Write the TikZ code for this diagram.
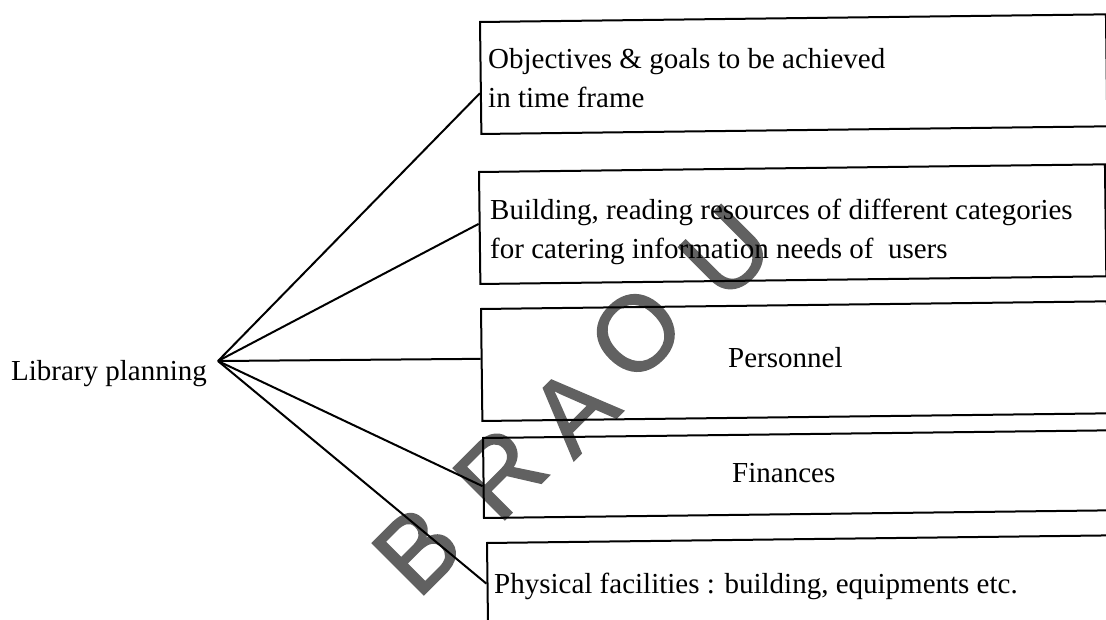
\documentclass[tikz,border=0pt]{standalone}
\usepackage{fontspec}
\setmainfont{Liberation Serif}
\newfontfamily\markfont[FakeBold=1.5]{Liberation Sans}
\usetikzlibrary{calc}
\begin{document}
\begin{tikzpicture}[x=1pt,y=-1pt,
  box/.style={draw,line width=2pt,rectangle,inner sep=0pt,anchor=north west,
              minimum width=626pt,rotate=0.7},
  txt/.style={font=\fontsize{29}{39}\selectfont,inner sep=0pt,anchor=base west,align=left},
  link/.style={line width=2pt},
  wm/.style={font=\markfont\fontsize{106}{106}\selectfont,text=black!62,rotate=45,inner sep=0pt}]
\useasboundingbox (0,0) rectangle (1106,619);
\clip (0,0) rectangle (1106,619);

% watermark letters
\node[wm] (wB) at (417,550) {B};
\node[wm] (wR) at (500,473) {R};
\node[wm] (wA) at (573,410) {A};
\node[wm] (wO) at (636,333) {O};
\node[wm] (wU) at (726,252) {U};

% root
\node[txt,anchor=base east] (root) at (207,380) {Library planning};
\coordinate (hub) at (218,361);

% boxes
\node[box,minimum height=112pt] (b1) at (479,21) {};
\node[box,minimum height=112pt] (b2) at (478,171) {};
\node[box,minimum height=112pt] (b3) at (480,308) {};
\node[box,minimum height=80pt]  (b4) at (482,437) {};
\node[box,minimum height=112pt] (b5) at (486,542) {};

% box texts (base anchor sits on the last line)
\node[txt] (t1) at (488,107) {Objectives \& goals to be achieved\\in time frame};
\node[txt] (t2) at (490,258) {Building, reading resources of different categories\\for catering information needs of\ \ users};
\node[txt] (t3) at (728,367) {Personnel};
\node[txt] (t4) at (732,482) {Finances};
\node[txt] (t5) at (494,593) {Physical facilities : building, equipments etc.};

% connectors
\draw[link] (hub) -- ($(b1.north west)!0.634!(b1.south west)$);
\draw[link] (hub) -- ($(b2.north west)!0.464!(b2.south west)$);
\draw[link] (hub) -- ($(b3.north west)!0.446!(b3.south west)$);
\draw[link] (hub) -- ($(b4.north west)!0.6!(b4.south west)$);
\draw[link] (hub) -- ($(b5.north west)!0.366!(b5.south west)$);
\end{tikzpicture}
\end{document}
